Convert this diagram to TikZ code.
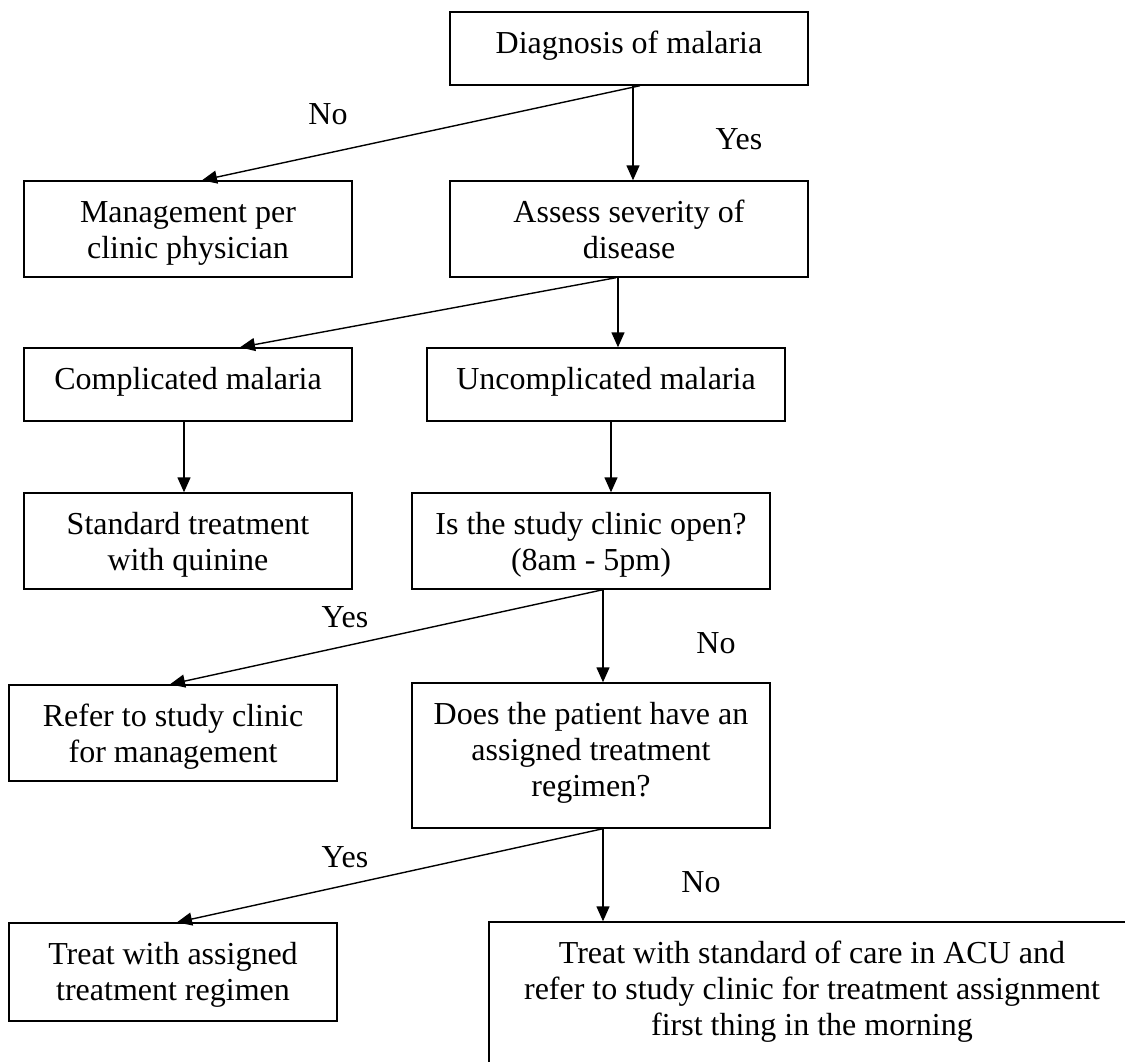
\documentclass[tikz,border=0pt]{standalone}
\usepackage{fontspec}
\setmainfont{Liberation Serif}
\usetikzlibrary{arrows.meta}
\newcommand{\boxtext}[3]{\parbox[c][#2][t]{#1}{\centering\rule{0pt}{20.5pt}#3\par}}
\begin{document}
\begin{tikzpicture}[x=0.5pt,y=-0.5pt,
  box/.style={draw,line width=0.7pt,rectangle,inner sep=0pt,font=\fontsize{16}{18}\selectfont},
  arr/.style={line width=0.7pt,-{Triangle[length=7.5pt,width=6.5pt]}},
  lbl/.style={font=\fontsize{16}{18}\selectfont,inner sep=0pt}]
\useasboundingbox (0,0) rectangle (1125,1061);
\clip (0,0) rectangle (1125,1061);
\fill[white] (0,0) rectangle (1125,1061);

\node[box] (diag) at (629,48.5) {\boxtext{179pt}{36.5pt}{Diagnosis of malaria}};
\node[box] (mgmt) at (188,229) {\boxtext{164pt}{48pt}{Management per\\clinic physician}};
\node[box] (assess) at (629,229) {\boxtext{179pt}{48pt}{Assess severity of\\disease}};
\node[box] (compl) at (188,384.5) {\boxtext{164pt}{36.5pt}{Complicated malaria}};
\node[box] (uncompl) at (606,384.5) {\boxtext{179pt}{36.5pt}{Uncomplicated malaria}};
\node[box] (std) at (188,541) {\boxtext{164pt}{48pt}{Standard treatment\\with quinine}};
\node[box] (isopen) at (591,541) {\boxtext{179pt}{48pt}{Is the study clinic open?\\(8am - 5pm)}};
\node[box] (refer) at (173,733) {\boxtext{164pt}{48pt}{Refer to study clinic\\for management}};
\node[box] (does) at (591,755.5) {\boxtext{179pt}{72.5pt}{Does the patient have an\\assigned treatment\\regimen?}};
\node[box] (treat) at (173,972) {\boxtext{164pt}{49pt}{Treat with assigned\\treatment regimen}};
\node[box] (final) at (812,994.5) {\boxtext{323pt}{72.5pt}{Treat with standard of care in ACU and\\refer to study clinic for treatment assignment\\first thing in the morning}};

\draw[arr] ([xshift=2pt]diag.south) -- ([xshift=2pt]assess.north);
\draw[arr] ([xshift=5.5pt]diag.south) -- ([xshift=7pt]mgmt.north);
\draw[arr] ([xshift=-5.5pt]assess.south) -- ([xshift=6pt]uncompl.north);
\draw[arr] ([xshift=-6.5pt]assess.south) -- ([xshift=26pt]compl.north);
\draw[arr] ([xshift=-2pt]compl.south) -- ([xshift=-2pt]std.north);
\draw[arr] ([xshift=2.5pt]uncompl.south) -- ([xshift=10pt]isopen.north);
\draw[arr] ([xshift=6pt]isopen.south) -- ([xshift=6pt]does.north);
\draw[arr] ([xshift=6pt]isopen.south) -- ([xshift=-1.5pt]refer.north);
\draw[arr] ([xshift=6pt]does.south) -- ([xshift=-104.5pt]final.north);
\draw[arr] ([xshift=6pt]does.south) -- ([xshift=2pt]treat.north);

\node[lbl] (no1) at (328,114) {No};
\node[lbl] (yes1) at (739,139) {Yes};
\node[lbl] (yes2) at (345,617) {Yes};
\node[lbl] (no2) at (716,643) {No};
\node[lbl] (yes3) at (345,857) {Yes};
\node[lbl] (no3) at (701,882) {No};
\end{tikzpicture}
\end{document}
